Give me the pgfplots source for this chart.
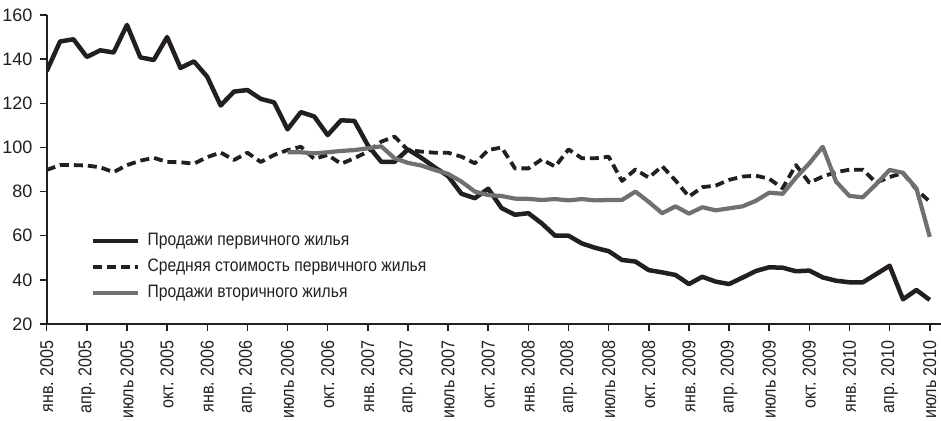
\documentclass[border=0pt]{standalone}
\usepackage{fontspec}
\setmainfont{Liberation Sans}[FakeStretch=0.87]
\newfontfamily\ytickfont{Liberation Sans}[FakeStretch=1.0]
\usepackage{pgfplots}
\pgfplotsset{compat=1.18}
\usepackage{pgfplotstable}

\definecolor{ink}{RGB}{35,31,32}
\definecolor{graysale}{RGB}{112,112,112}

\pgfplotstableread{
m v
0 134.6
1 148
2 149
3 141
4 144
5 143
6 155.5
7 140.8
8 139.6
9 150
10 136
11 139
12 132
13 119
14 125.3
15 126
16 122
17 120.4
18 108.2
19 116
20 114
21 105.6
22 112.3
23 112
24 101
25 93.5
26 93.5
27 99.1
28 95.3
29 91
30 87
31 79
32 77
33 81.3
34 72.5
35 69.5
36 70.2
37 65.6
38 60
39 60
40 56.5
41 54.5
42 53
43 49
44 48.3
45 44.4
46 43.4
47 42.2
48 38.1
49 41.4
50 39.2
51 38.1
52 41
53 44
54 45.7
55 45.5
56 43.9
57 44.2
58 41.1
59 39.6
60 38.9
61 38.9
62 42.6
63 46.4
64 31.2
65 35.4
66 30.9
}\primary

\pgfplotstableread{
m v
0 89.8
1 92
2 92
3 91.8
4 91
5 88.8
6 92
7 94
8 95.3
9 93.4
10 93.3
11 92.6
12 95.6
13 97.7
14 94.3
15 97.6
16 93.4
17 96.6
18 98.8
19 100.3
20 94.8
21 96.6
22 92.6
23 95.1
24 98.1
25 102.6
26 104.9
27 98.8
28 98.1
29 97.6
30 97.6
31 95.8
32 92.8
33 98.8
34 100
35 90.5
36 90.5
37 94.6
38 91.3
39 99.1
40 95.1
41 95.1
42 95.8
43 84.8
44 90
45 86.3
46 91.5
47 85
48 77.7
49 82
50 82.7
51 85.3
52 86.8
53 87.2
54 85.8
55 81.5
56 92
57 84
58 86.8
59 88.8
60 89.9
61 89.9
62 84
63 86.6
64 88.4
65 81
66 75.4
}\price

\pgfplotstableread{
m v
18 97.8
19 97.8
20 97.3
21 97.8
22 98.4
23 98.8
24 99.6
25 100.5
26 95.1
27 93
28 91.8
29 89.8
30 88
31 84.5
32 80
33 78.4
34 78
35 76.8
36 76.7
37 76.2
38 76.6
39 76
40 76.6
41 76
42 76.2
43 76.2
44 80
45 75.3
46 70.2
47 73.3
48 70
49 72.9
50 71.5
51 72.4
52 73.3
53 75.8
54 79.5
55 79
56 86.3
57 92.8
58 100.3
59 84.5
60 78
61 77.4
62 83.4
63 89.8
64 88.5
65 81.5
66 59.5
}\secondary

\begin{document}
\fontsize{18bp}{21bp}\selectfont
\begin{tikzpicture}
\useasboundingbox (-46.7bp,-97bp) rectangle (894.3bp,324bp);
\begin{axis}[
  at={(0,0)}, anchor=south west,
  scale only axis, width=894.3bp, height=309bp,
  xmin=0, xmax=66.84, ymin=20, ymax=160,
  axis x line=bottom, axis y line=left,
  axis line style={-, line width=1.8bp, draw=ink},
  ytick={20,40,...,160},
  xtick={0,3,...,66},
  xticklabels={янв. 2005, апр. 2005, июль 2005, окт. 2005, янв. 2006, апр. 2006, июль 2006, окт. 2006, янв. 2007, апр. 2007, июль 2007, окт. 2007, янв. 2008, апр. 2008, июль 2008, окт. 2008, янв. 2009, апр. 2009, июль 2009, окт. 2009, янв. 2010, апр. 2010, июль 2010},
  tick align=outside, major tick length=7bp,
  tick style={line width=1.5bp, draw=ink},
  /pgf/number format/assume math mode=true,
  ticklabel style={text=ink},
  x tick label style={font=\fontsize{18.5bp}{20bp}\selectfont, yshift=-9bp, rotate=90, anchor=east, inner sep=0pt},
  y tick label style={font=\ytickfont\fontsize{18bp}{20bp}\selectfont, inner sep=0pt, xshift=-7bp},
  legend style={at={(0.0495,0.303)}, anchor=north west, draw=none, fill=none,
    inner sep=0pt, row sep=5bp,
    nodes={inner sep=2bp, text height=13bp, text depth=4bp, font=\fontsize{18bp}{20bp}\selectfont, text=ink},
    /tikz/every odd column/.append style={column sep=5bp}},
  legend cell align=left,
  legend image code/.code={\draw[#1] (0bp,0bp) -- (45bp,0bp);},
  line join=round,
]
\addplot[ink, line width=4.5bp] table[x=m, y=v] {\primary};
\addlegendentry{Продажи первичного жилья}
\addplot[ink, line width=3.8bp, dash pattern=on 9bp off 5bp] table[x=m, y=v] {\price};
\addlegendentry{Средняя стоимость первичного жилья}
\addplot[graysale, line width=4.2bp] table[x=m, y=v] {\secondary};
\addlegendentry{Продажи вторичного жилья}
\end{axis}
\end{tikzpicture}
\end{document}
